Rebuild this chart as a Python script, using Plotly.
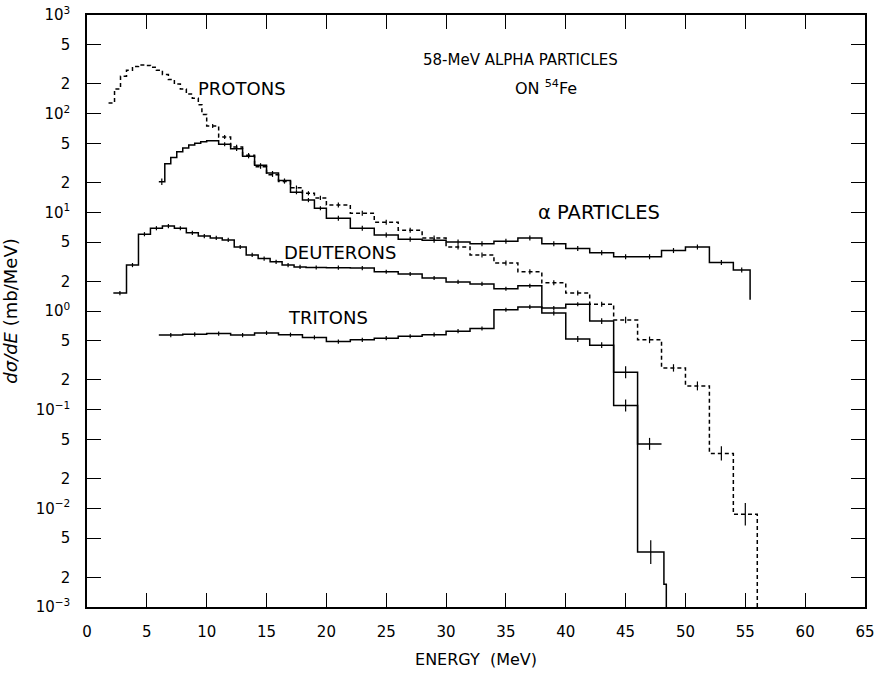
import plotly.graph_objects as go

# ---------------- data ----------------
# PROTONS (dashed histogram)
p_edges = [1.8, 2.3, 2.8, 3.3, 3.8, 4.3, 4.8, 5.3, 5.8, 6.3, 6.8, 7.3, 7.8, 8.3, 8.8, 9.3, 9.6, 10,
           11, 12, 13, 14, 15, 16, 17, 18, 19, 20,
           22, 24, 26, 28, 30, 32, 34, 36, 38, 40, 42, 44, 46, 48, 50, 52, 54, 56]
p_vals = [128, 178, 240, 275, 300, 312, 308, 295, 275, 250, 222, 200, 178, 158, 143, 123, 98,
          75, 58, 46, 38, 29, 24, 20.5, 17.8, 15.6, 14.0,
          11.9, 9.8, 7.95, 6.6, 5.5, 4.45, 3.7, 3.06, 2.5, 1.93, 1.52, 1.17, 0.81, 0.51, 0.265, 0.174, 0.036, 0.0087]
p_err = [0] * 17 + [0.05] * 10 + [0.06] * 12 + [0.08, 0.08, 0.09, 0.11, 0.18, 0.30]
p_end = 0.001

# ALPHA PARTICLES (solid)
a_edges = [6.0, 6.5, 7.0, 7.5, 8.0, 8.5, 9.0, 9.5, 10.0, 10.5,
           11, 12, 13, 14, 15, 16, 17, 18, 19, 20,
           22, 24, 26, 28, 30, 32, 34, 36, 38, 40, 42, 44, 46, 48, 50, 52, 54, 55.4]
a_vals = [20.4, 31, 36, 41, 45, 48, 50, 52, 53, 53,
          49, 44, 37, 30, 25, 21, 16, 13.3, 11,
          8.7, 6.9, 5.9, 5.35, 5.2, 5.0, 4.8, 5.1, 5.5, 4.8, 4.3, 3.9, 3.55, 3.55, 4.1, 4.45, 3.1,
          2.6]
a_err = [0.08] + [0] * 9 + [0.05] * 9 + [0.06] * 17 + [0.06]
a_end = 1.3

# DEUTERONS (solid)
d_edges = [2.2, 3.3, 4.3, 5.3, 6.3, 7.3, 8.3, 9.3, 10.3, 11.3, 12.3, 13.3, 14.3, 15.3, 16.3, 17.3, 18.3,
           20, 22, 24, 26, 28, 30, 32, 34, 36, 38, 40, 42, 44, 46, 48.2, 48.4]
d_vals = [1.52, 2.92, 6.0, 6.9, 7.25, 6.9, 6.2, 5.75, 5.5, 5.25, 4.45, 3.7, 3.4, 3.15, 2.92, 2.8,
          2.76, 2.75, 2.72, 2.5, 2.37, 2.16, 1.97, 1.88, 1.68, 1.80, 0.955, 0.52, 0.45, 0.11,
          0.0036, 0.0017]
d_err = [0.05] * 16 + [0.05] * 10 + [0.06, 0.07, 0.07, 0.15, 0.32, 0]
d_end = 0.001

# TRITONS (solid)
t_edges = [6, 8, 10, 12, 14, 16, 18, 20, 22, 24, 26, 28, 30, 32, 34, 36, 38, 40, 42, 44, 46, 48]
t_vals = [0.57, 0.58, 0.59, 0.57, 0.6, 0.575, 0.54, 0.49, 0.51, 0.53, 0.555, 0.575, 0.625, 0.665,
          1.03, 1.1, 1.07, 1.17, 0.79, 0.24, 0.045]
t_err = [0.05] * 18 + [0.07, 0.15, 0.15]

x_ticks = list(range(0, 70, 5))
y_ticks = [m * 10.0 ** e for e in range(-3, 3) for m in (1, 2, 5)] + [1000.0]
y_ticktext = []
for e in range(-3, 3):
    y_ticktext += ["10<sup>%s</sup>" % (str(e).replace("-", "\u2212")), "2", "5"]
y_ticktext.append("10<sup>3</sup>")

FONT = "DejaVu Sans"
fig = go.Figure()


def add_hist(edges, vals, errs, dash, end=None):
    xs = list(edges)
    ys = list(vals) + [vals[-1]]
    if end is not None:
        xs.append(edges[-1])
        ys.append(end)
    fig.add_trace(go.Scatter(x=xs, y=ys, mode="lines", line_shape="hv",
                             line=dict(color="black", width=1.5, dash=dash),
                             hoverinfo="skip", showlegend=False))
    cx, cy, up, dn = [], [], [], []
    for i, v in enumerate(vals):
        if errs[i] > 0:
            cx.append((edges[i] + edges[i + 1]) / 2)
            cy.append(v)
            up.append(v * errs[i])
            dn.append(v * errs[i] / (1 + errs[i]))
    fig.add_trace(go.Scatter(x=cx, y=cy, mode="markers",
                             marker=dict(size=2, color="rgba(0,0,0,0)"),
                             error_y=dict(type="data", array=up, arrayminus=dn, symmetric=False,
                                          color="black", thickness=1.2, width=0),
                             hoverinfo="skip", showlegend=False))


add_hist(p_edges, p_vals, p_err, "4px,3px", p_end)
add_hist(a_edges, a_vals, a_err, "solid", a_end)
add_hist(d_edges, d_vals, d_err, "solid", d_end)
add_hist(t_edges, t_vals, t_err, "solid")


def ann(x, y, text, size):
    return dict(x=x, y=y, text=text, xref="x", yref="y", showarrow=False,
                font=dict(family=FONT, size=size, color="black"),
                xanchor="left", yanchor="middle")


annotations = [
    ann(27.9, 2.544, "58-MeV ALPHA PARTICLES", 15),
    ann(35.6, 2.27, "ON <sup>54</sup>Fe", 16),
    ann(9.1, 2.26, "PROTONS", 18),
    ann(37.5, 1.0, "\u03b1 PARTICLES", 19.5),
    ann(16.3, 0.598, "DEUTERONS", 18),
    ann(16.6, -0.07, "TRITONS", 18),
]

fig.update_layout(
    width=875, height=673,
    margin=dict(l=87, r=10, t=15, b=66),
    paper_bgcolor="white", plot_bgcolor="white",
    font=dict(family=FONT, color="black", size=15),
    annotations=annotations,
    xaxis=dict(range=[0, 65], tickvals=x_ticks, ticks="inside", ticklen=14, tickwidth=1.2,
               tickcolor="black", showline=True, linecolor="black", linewidth=1.5, mirror="ticks",
               showgrid=False, zeroline=False, ticklabelstandoff=10, automargin=False,
               tickfont=dict(family=FONT, size=15),
               title=dict(text="ENERGY\u00a0\u00a0(MeV)", font=dict(family=FONT, size=16), standoff=14)),
    yaxis=dict(type="log", range=[-3, 3], tickvals=y_ticks, ticktext=y_ticktext, ticks="inside",
               ticklen=14, tickwidth=1.2, tickcolor="black", showline=True, linecolor="black",
               linewidth=1.5, mirror="ticks", showgrid=False, zeroline=False, ticklabelstandoff=12,
               automargin=False, tickfont=dict(family=FONT, size=15),
               title=dict(text="<i>d\u03c3/dE</i> (mb/MeV)", font=dict(family=FONT, size=18), standoff=13)),
)

fig.write_html("out.html")
